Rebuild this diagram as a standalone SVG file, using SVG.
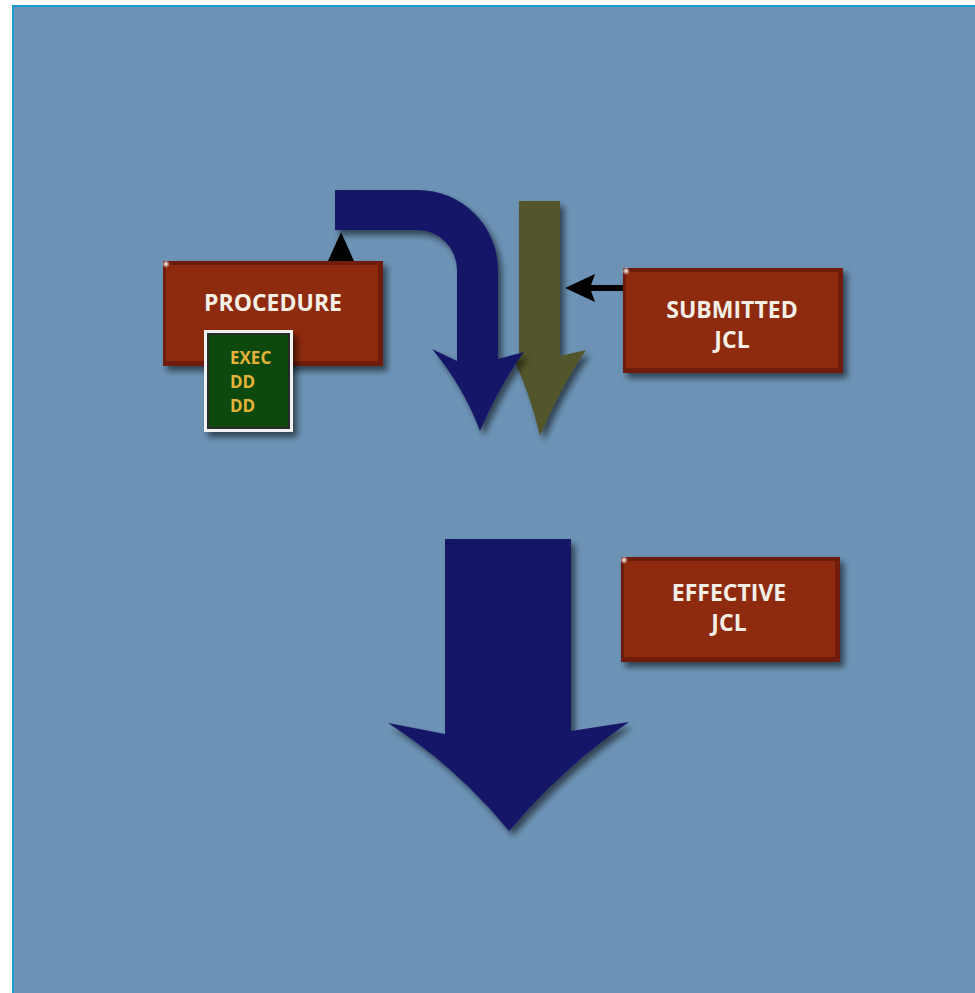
<svg xmlns="http://www.w3.org/2000/svg" width="975" height="993" viewBox="0 0 975 993">
<style>
.lbl{font-family:"Open Sans","Liberation Sans",Arial,sans-serif;font-weight:bold;fill:#f4efe6;text-anchor:middle;font-size:23px}
.code{font-family:"Open Sans","Liberation Sans",Arial,sans-serif;font-weight:bold;fill:#e6b23a;font-size:17px}
.boxOuter{fill:#701e07}
.boxInner{fill:#8e2a10}
</style>
<defs>
<filter id="sh" x="-20%" y="-20%" width="150%" height="150%">
<feDropShadow dx="4" dy="5" stdDeviation="3" flood-color="#000" flood-opacity="0.55"/>
</filter>
<radialGradient id="glint" cx="0.5" cy="0.5" r="0.5">
<stop offset="0" stop-color="#ffffff"/>
<stop offset="1" stop-color="#ffffff" stop-opacity="0"/>
</radialGradient>
</defs>
<rect x="0" y="0" width="975" height="993" fill="#ffffff"/>
<rect x="12" y="5" width="963" height="988" fill="#1a9ccc"/>
<rect x="14" y="7" width="961" height="986" fill="#6c93b5"/>

<g id="connectors">
<path d="M519,201 L560,201 L560,356 L586,350 Q560,388 540,436 Q530,393 512,355 L519,358 Z" fill="#52542a" filter="url(#sh)"/>
<path d="M335,190 L418,190 A80,80 0 0 1 498,270 L498,359 L524,352 Q499,386 480,431 Q463,386 432,349 L457,361 L457,270 A40,40 0 0 0 417,230 L335,230 Z" fill="#181868" filter="url(#sh)"/>
<path d="M328,261 L341,232 L354,261 Z" fill="#000"/>
<line x1="623" y1="288" x2="590" y2="288" stroke="#000" stroke-width="6"/>
<path d="M565,288 L595,274 L590,288 L595,302 Z" fill="#000"/>
<path d="M445,539 L571,539 L571,731 L629,722 Q562,768 509,831 Q458,768 388,723 L445,734 Z" fill="#181868" filter="url(#sh)"/>
</g>

<g id="procedure">
<g filter="url(#sh)">
<rect class="boxOuter" x="163" y="261" width="220" height="105"/>
<rect class="boxInner" x="166" y="265" width="212" height="96"/>
</g>
<circle cx="166" cy="264" r="4" fill="url(#glint)"/>
<text class="lbl" x="273" y="311">PROCEDURE</text>
</g>

<g id="procedure-code">
<g filter="url(#sh)">
<rect x="204" y="330" width="89" height="102" fill="#f2f2f2"/>
<rect x="207" y="333" width="83" height="96" fill="#2a2a2a"/>
<rect x="209" y="335" width="79" height="92" fill="#0b4a0e"/>
</g>
<text class="code" x="230" y="364">EXEC</text>
<text class="code" x="230" y="388">DD</text>
<text class="code" x="230" y="412">DD</text>
</g>

<g id="submitted-jcl">
<g filter="url(#sh)">
<rect class="boxOuter" x="623" y="268" width="220" height="105"/>
<rect class="boxInner" x="626" y="272" width="212" height="96"/>
</g>
<circle cx="626" cy="271" r="4" fill="url(#glint)"/>
<text class="lbl" x="732" y="318">SUBMITTED</text>
<text class="lbl" x="732" y="348">JCL</text>
</g>

<g id="effective-jcl">
<g filter="url(#sh)">
<rect class="boxOuter" x="621" y="557" width="219" height="105"/>
<rect class="boxInner" x="624" y="561" width="211" height="96"/>
</g>
<circle cx="624" cy="560" r="4" fill="url(#glint)"/>
<text class="lbl" x="729" y="601">EFFECTIVE</text>
<text class="lbl" x="729" y="631">JCL</text>
</g>
</svg>
